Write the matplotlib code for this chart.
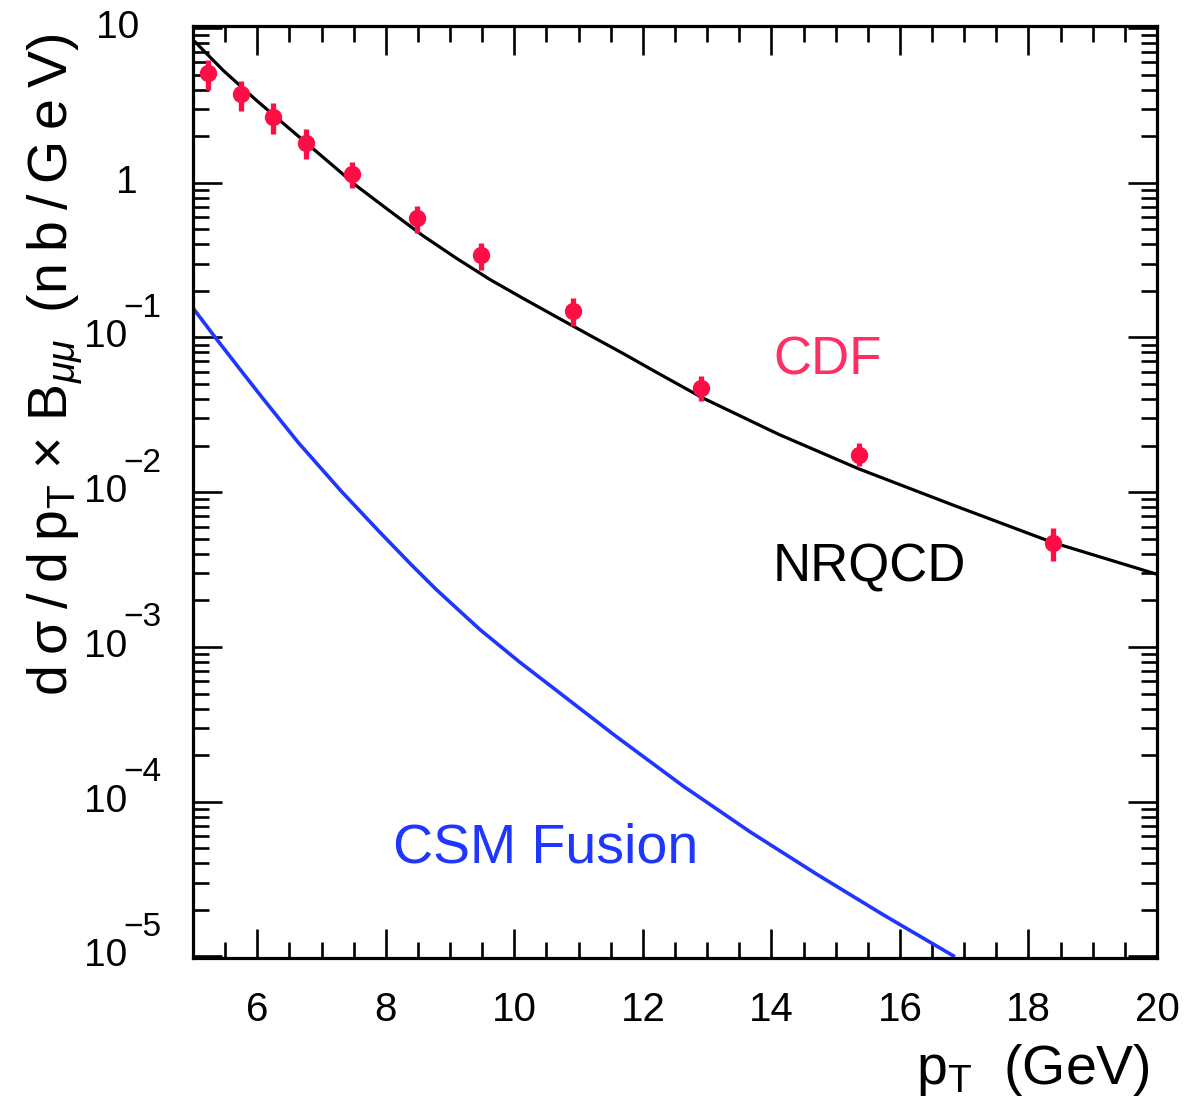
import matplotlib
matplotlib.use('Agg')
import matplotlib.pyplot as plt
from matplotlib import transforms
from matplotlib.ticker import LogLocator, MultipleLocator, NullFormatter, FixedLocator
import numpy as np

plt.rcParams['font.family'] = ['Liberation Sans', 'DejaVu Sans']
plt.rcParams['mathtext.fontset'] = 'custom'
plt.rcParams['mathtext.rm'] = 'Liberation Sans'
plt.rcParams['mathtext.it'] = 'Liberation Sans:italic'
plt.rcParams['mathtext.bf'] = 'Liberation Sans:bold'

# CDF data points
cdf_pt = [5.24, 5.74, 6.25, 6.76, 7.47, 8.48, 9.48, 10.91, 12.90, 15.36, 18.38]
cdf_val = [5.1, 3.72, 2.68, 1.81, 1.145, 0.592, 0.342, 0.148, 0.0471, 0.01747, 0.0047]
cdf_lo = [3.95, 2.93, 2.07, 1.42, 0.924, 0.473, 0.274, 0.119, 0.0386, 0.01468, 0.00357]
cdf_hi = [6.2, 4.55, 3.26, 2.22, 1.36, 0.710, 0.411, 0.1788, 0.056, 0.0208, 0.00587]

# NRQCD curve
nrqcd_pt = [5.0, 5.03, 5.47, 5.99, 6.51, 7.03, 7.55, 8.07, 8.58, 9.10, 9.62, 10.14, 10.66,
            11.18, 11.70, 12.21, 12.93, 14.11, 15.36, 16.87, 18.38, 20.0]
nrqcd_val = [8.3, 8.15, 5.32, 3.40, 2.22, 1.455, 0.951, 0.653, 0.454, 0.325, 0.237, 0.1786, 0.1355,
             0.1030, 0.0785, 0.0596, 0.0407, 0.0237, 0.01416, 0.00813, 0.00473, 0.00295]

# CSM fusion curve
csm_pt = [5.0, 5.34, 5.73, 6.07, 6.64, 7.31, 7.91, 8.40, 8.79, 9.47, 10.09, 10.56,
          11.59, 12.63, 13.67, 14.71, 15.74, 16.83]
csm_val = [0.155, 0.1009, 0.0624, 0.0412, 0.0209, 0.01012, 0.0055, 0.00339, 0.00234, 0.00129,
           7.94e-4, 5.62e-4, 2.63e-4, 1.26e-4, 6.38e-5, 3.39e-5, 1.86e-5, 1.01e-5]

xticks = [6, 8, 10, 12, 14, 16, 18, 20]
yticks = [1e1, 1e0, 1e-1, 1e-2, 1e-3, 1e-4, 1e-5]
ytick_exp = [1, 0, -1, -2, -3, -4, -5]

RED = '#ff0d45'
RED_TXT = '#ff2e63'
BLUE = '#1f36ff'

W, H = 1189, 1106
fig = plt.figure(figsize=(W / 100, H / 100), dpi=100)
ax = fig.add_axes([193 / W, 1 - 958 / H, (1157 - 193) / W, (958 - 26) / H])
ax.set_yscale('log')
ax.set_xlim(5, 20)
ax.set_ylim(10 ** -5.01, 10 ** 1.013)

for s in ax.spines.values():
    s.set_linewidth(2.3)

ax.xaxis.set_major_locator(FixedLocator(xticks))
ax.xaxis.set_minor_locator(MultipleLocator(0.5))
ax.yaxis.set_major_locator(FixedLocator(yticks))
ax.yaxis.set_minor_locator(LogLocator(base=10, subs=np.arange(2, 10), numticks=20))
ax.yaxis.set_minor_formatter(NullFormatter())
ax.tick_params(which='both', direction='in', top=True, right=True, width=1.9, colors='black')
ax.tick_params(which='major', length=21)
ax.tick_params(which='minor', length=11.5)
ax.tick_params(axis='x', which='major', labelsize=29, pad=24)
ax.set_xticklabels([str(t) for t in xticks])
ax.tick_params(axis='y', which='both', labelleft=False)

# y tick labels drawn manually in PAW style
blend = transforms.blended_transform_factory(fig.transFigure, ax.transData)
for v, e in zip(yticks, ytick_exp):
    if e == 1:
        ax.text(139 / W, v, '10', transform=blend, ha='right', va='center', fontsize=28, clip_on=False)
    elif e == 0:
        ax.text(138 / W, v, '1', transform=blend, ha='right', va='center', fontsize=28, clip_on=False)
    else:
        ax.text(127 / W, v, '10', transform=blend, ha='right', va='center', fontsize=28, clip_on=False)
        off = transforms.offset_copy(blend, fig=fig, x=0, y=29, units='dots')
        ax.text(123 / W, v, '\u2212' + str(-e), transform=off, ha='left', va='center', fontsize=24, clip_on=False)

# curves
ax.plot(nrqcd_pt, nrqcd_val, color='black', lw=2.3, zorder=2)
ax.plot(csm_pt, csm_val, color=BLUE, lw=2.6, zorder=2)

# data
yv = np.array(cdf_val)
yerr = [yv - np.array(cdf_lo), np.array(cdf_hi) - yv]
ax.errorbar(cdf_pt, cdf_val, yerr=yerr, fmt='o', color=RED, ms=11.5, elinewidth=3.8,
            capsize=0, zorder=3)

# annotations
ax.text(0.658, 0.6416, 'CDF', transform=ax.transAxes, color=RED_TXT, fontsize=38,
        ha='center', va='center')
ax.text(0.702, 0.4195, 'NRQCD', transform=ax.transAxes, color='black', fontsize=38,
        ha='center', va='center')
ax.text(0.366, 0.118, 'CSM Fusion', transform=ax.transAxes, color=BLUE, fontsize=40,
        ha='center', va='center')

# axis titles
ts = '\u2009'
ylab = ('d' + ts + '\u03c3' + ts + '/' + ts + 'd' + ts + 'p$_{\\mathrm{T}}$ \u00d7 ' +
        'B$_{\\mathit{\u03bc\u03bc}}$ ' + ts + '(n' + ts + 'b' + ts + '/' + ts +
        'G' + ts + 'e' + ts + 'V)')
fig.text(56 / W, 1 - 365 / H, ylab, rotation=90, ha='center', va='center', fontsize=40)
fig.text(1150 / W, 1 - 1070 / H, 'p$_{\\mathrm{T}}$  (GeV)', ha='right', va='center', fontsize=40)

fig.savefig('out.png', dpi=100)
